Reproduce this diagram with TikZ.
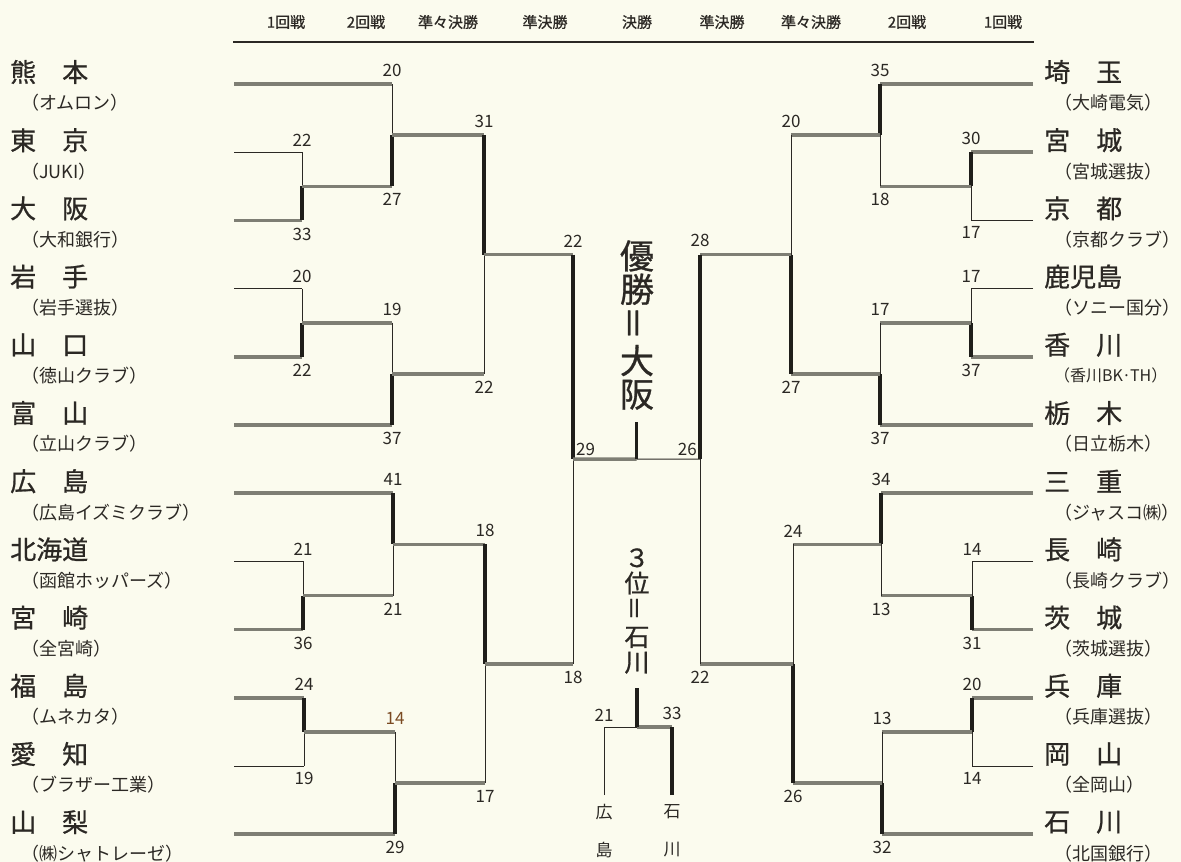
\documentclass[tikz,border=0pt]{standalone}
\usepackage{fontspec}
\setmainfont{Noto Sans CJK JP}
\newfontfamily\heavy[FakeBold=0.8]{Noto Sans CJK JP}
\usetikzlibrary{calc}
\definecolor{paper}{HTML}{FBFBEE}
\definecolor{ink}{HTML}{2B2824}
\definecolor{rail}{HTML}{7E7E74}
\definecolor{post}{HTML}{1F1E1A}
\definecolor{rust}{HTML}{7A4A22}
\tikzset{
  loss/.style={draw=ink,line width=1pt},
  gain/.style={draw=rail,line width=3.6pt},
  riser/.style={draw=post,line width=3.2pt},
  score/.style={font=\fontsize{17}{17}\selectfont,text=ink,inner sep=1.5pt},
  team/.style={font=\heavy\fontsize{26}{26}\selectfont,text=ink,anchor=west,inner sep=0pt},
  club/.style={font=\fontsize{18}{18}\selectfont,text=ink,anchor=west,inner sep=0pt},
  round/.style={font=\heavy\fontsize{15}{15}\selectfont,text=ink,inner sep=0pt},
}
% one side of a bout: line style, riser style, from, meeting point, score, label side
\newcommand\arm[6]{%
  \draw[#1] (#3) -- (#3 -| #4) node[score,#6]{#5};
  \draw[#2] (#3 -| #4) -- (#4);}
% meeting point of two lines, half way down, at column x
\newcommand\meet[4]{\path let \p1=($(#1)!.5!(#2)$) in (#4pt,\y1) coordinate (#3);}
\begin{document}
\begin{tikzpicture}[x=1pt,y=-1pt]
\useasboundingbox (0,0) rectangle (1181,862);
\fill[paper] (0,0) rectangle (1181,862);
% heading
\foreach \x/\r [count=\k] in {286/1回戦,366/2回戦,448/準々決勝,545/準決勝,637/決勝,722/準決勝,811/準々決勝,907/2回戦,1003/1回戦}
  \node[round] (head\k) at (\x,22) {\r};
\draw[ink,line width=1.2pt] (233,42) coordinate (ruleL) -- (1034,42) coordinate (ruleR);
% teams
\foreach \i/\n/\c in {1/熊　本/（オムロン）,2/東　京/（JUKI）,3/大　阪/（大和銀行）,4/岩　手/（岩手選抜）,
  5/山　口/（徳山クラブ）,6/富　山/（立山クラブ）,7/広　島/（広島イズミクラブ）,8/北海道/（函館ホッパーズ）,
  9/宮　崎/（全宮崎）,10/福　島/（ムネカタ）,11/愛　知/（ブラザー工業）,12/山　梨/（㈱シャトレーゼ）}{
  \coordinate (L\i) at (234,{84+68.2*(\i-1)});
  \node[team] (ln\i) at (10,{84+68.2*(\i-1)-12}) {\n};
  \node[club] (lc\i) at (21,{84+68.2*(\i-1)+19}) {\c};
}
\foreach \i/\n/\c in {1/埼　玉/（大崎電気）,2/宮　城/（宮城選抜）,3/京　都/（京都クラブ）,4/鹿児島/（ソニー国分）,
  5/香　川/{\fontsize{16}{16}\selectfont（香川BK·TH）},6/栃　木/（日立栃木）,7/三　重/（ジャスコ㈱）,8/長　崎/（長崎クラブ）,
  9/茨　城/（茨城選抜）,10/兵　庫/（兵庫選抜）,11/岡　山/（全岡山）,12/石　川/（北国銀行）}{
  \coordinate (R\i) at (1033,{84+68.2*(\i-1)});
  \node[team] (rn\i) at (1044,{84+68.2*(\i-1)-12}) {\n};
  \node[club] (rc\i) at (1054,{84+68.2*(\i-1)+19}) {\c};
}
% left half
\meet{L2}{L3}{a}{302}
\arm{loss}{loss}{L2}{a}{22}{above=4pt}
\arm{gain}{riser}{L3}{a}{33}{below=4pt}
\meet{L1}{a}{b}{392}
\arm{gain}{loss}{L1}{b}{20}{above=4pt}
\arm{gain}{riser}{a}{b}{27}{below=4pt}
\meet{L4}{L5}{c}{302}
\arm{loss}{loss}{L4}{c}{20}{above=4pt}
\arm{gain}{riser}{L5}{c}{22}{below=4pt}
\meet{c}{L6}{d}{392}
\arm{gain}{loss}{c}{d}{19}{above=4pt}
\arm{gain}{riser}{L6}{d}{37}{below=4pt}
\meet{b}{d}{e}{484}
\arm{gain}{riser}{b}{e}{31}{above=4pt}
\arm{gain}{loss}{d}{e}{22}{below=4pt}
\meet{L8}{L9}{f}{303}
\arm{loss}{loss}{L8}{f}{21}{above=4pt}
\arm{gain}{riser}{L9}{f}{36}{below=4pt}
\meet{L7}{f}{g}{393}
\arm{gain}{riser}{L7}{g}{41}{above=4pt}
\arm{gain}{loss}{f}{g}{21}{below=4pt}
\meet{L10}{L11}{h}{304}
\arm{gain}{riser}{L10}{h}{24}{above=4pt}
\arm{loss}{loss}{L11}{h}{19}{below=4pt}
\meet{h}{L12}{i}{395}
\arm{gain}{loss}{h}{i}{\textcolor{rust}{14}}{above=4pt}
\arm{gain}{riser}{L12}{i}{29}{below=4pt}
\meet{g}{i}{j}{485}
\arm{gain}{riser}{g}{j}{18}{above=4pt}
\arm{gain}{loss}{i}{j}{17}{below=4pt}
\meet{e}{j}{k}{573}
\arm{gain}{riser}{e}{k}{22}{above=4pt}
\arm{gain}{loss}{j}{k}{18}{below=4pt}
% right half
\meet{R2}{R3}{A}{971}
\arm{gain}{riser}{R2}{A}{30}{above=4pt}
\arm{loss}{loss}{R3}{A}{17}{below=4pt}
\meet{R1}{A}{B}{880}
\arm{gain}{riser}{R1}{B}{35}{above=4pt}
\arm{gain}{loss}{A}{B}{18}{below=4pt}
\meet{R4}{R5}{C}{971}
\arm{loss}{loss}{R4}{C}{17}{above=4pt}
\arm{gain}{riser}{R5}{C}{37}{below=4pt}
\meet{C}{R6}{D}{880}
\arm{gain}{loss}{C}{D}{17}{above=4pt}
\arm{gain}{riser}{R6}{D}{37}{below=4pt}
\meet{B}{D}{E}{791}
\arm{gain}{loss}{B}{E}{20}{above=4pt}
\arm{gain}{riser}{D}{E}{27}{below=4pt}
\meet{R8}{R9}{F}{972}
\arm{loss}{loss}{R8}{F}{14}{above=4pt}
\arm{gain}{riser}{R9}{F}{31}{below=4pt}
\meet{R7}{F}{G}{881}
\arm{gain}{riser}{R7}{G}{34}{above=4pt}
\arm{gain}{loss}{F}{G}{13}{below=4pt}
\meet{R10}{R11}{H}{972}
\arm{gain}{riser}{R10}{H}{20}{above=4pt}
\arm{loss}{loss}{R11}{H}{14}{below=4pt}
\meet{H}{R12}{I}{882}
\arm{gain}{loss}{H}{I}{13}{above=4pt}
\arm{gain}{riser}{R12}{I}{32}{below=4pt}
\meet{G}{I}{J}{793}
\arm{gain}{loss}{G}{J}{24}{above=4pt}
\arm{gain}{riser}{I}{J}{26}{below=4pt}
\meet{E}{J}{K}{700}
\arm{gain}{riser}{E}{K}{28}{above=4pt}
\arm{gain}{loss}{J}{K}{22}{below=4pt}
% final
\coordinate (cup) at ($(k)!.5!(K)$);
\coordinate (crown) at ($(cup)+(0,-37)$);
\draw[gain] (k) -- (cup);
\draw[loss] (K) -- (cup);
\draw[riser] (cup) -- (crown);
\node[score,anchor=south west,inner sep=3pt] (fl) at (k) {29};
\node[score,anchor=south east,inner sep=3pt] (fr) at (K) {26};
\node[font=\heavy\fontsize{34}{33.5}\selectfont,text=ink,align=center,inner sep=0pt] (champ) at (637,325)
  {優\\勝\\\rotatebox{90}{＝}\\大\\阪};
% third place
\coordinate (bronze) at (637,727);
\coordinate (bronzetop) at (637,688);
\coordinate (hs) at (604,795);
\coordinate (is) at (672,795);
\draw[loss] (hs) -- (hs |- bronze) node[score,above=4pt]{21} -- (bronze);
\draw[gain] (is |- bronze) -- (bronze);
\draw[riser] (is) -- (is |- bronze) node[score,above=4pt]{33};
\draw[riser] (bronze) -- (bronzetop);
\node[font=\heavy\fontsize{25}{25.5}\selectfont,text=ink,align=center,inner sep=0pt] (third) at (637,611)
  {３\\位\\\rotatebox{90}{＝}\\石\\川};
\node[font=\fontsize{17}{38}\selectfont,text=ink,align=center,inner sep=0pt] (hname) at (604,831) {広\\島};
\node[font=\fontsize{17}{38}\selectfont,text=ink,align=center,inner sep=0pt] (iname) at (672,831) {石\\川};
\end{tikzpicture}
\end{document}
